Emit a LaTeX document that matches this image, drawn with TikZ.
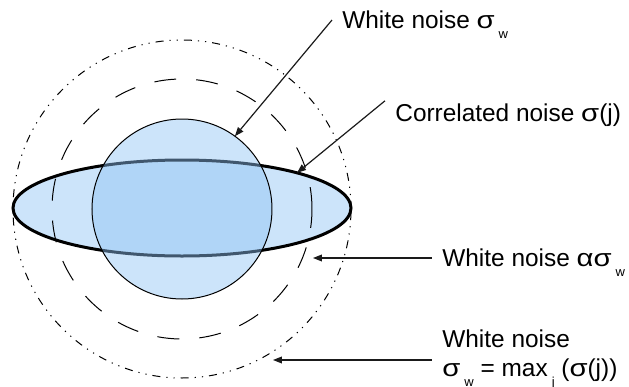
\documentclass[tikz,border=0pt]{standalone}
\usepackage{fontspec}
\setmainfont{Liberation Sans}
\newfontfamily\greekfont[FakeStretch=1.2]{Liberation Sans}
\usetikzlibrary{arrows.meta,shapes.geometric}
\definecolor{ellfill}{HTML}{CCE4FA}
\definecolor{discfill}{HTML}{8EC3F4}
\definecolor{ink}{HTML}{1A1A1A}
\newcommand\gk[1]{{\greekfont #1}}
\newcommand\lowsub[1]{\kern2pt\raisebox{-5pt}{\fontsize{6.5}{7}\selectfont #1}}
\tikzset{
  ring/.style={
    circle, draw=black, line width=0.5pt,
    inner sep=0pt, outer sep=0pt
  },
  noiseell/.style={
    ellipse, draw=black, line width=1.5pt, fill=ellfill,
    inner sep=0pt, outer sep=0pt,
    minimum width=169pt, minimum height=48pt
  },
  noisedisc/.style={
    circle, draw=black, line width=0.5pt, fill=discfill, fill opacity=0.45,
    inner sep=0pt, outer sep=0pt, minimum size=90pt
  },
  lbl/.style={
    font=\fontsize{12.2}{14.5}\selectfont, anchor=west,
    inner xsep=5pt, inner ysep=1.5pt
  },
  oneline/.style={text height=8.8pt, text depth=0pt},
  arrow/.style={-{Triangle[length=4.5pt,width=3.4pt]}, line width=0.6pt, draw=ink}
}

\begin{document}
\begin{tikzpicture}[x=0.5pt, y=-0.5pt]
  \useasboundingbox (0,0) rectangle (629,387);
  \node[noiseell] (corr) at (182,208) {};
  \node[noisedisc] (white) at (182,209) {};
  \node[ring, dash pattern=on 11pt off 10pt, minimum size=130pt] (ringa) at (182,209) {};
  \node[ring, dash pattern=on 4pt off 3pt on 0.6pt off 3pt on 0.6pt off 3pt, minimum size=169pt] (ringm) at (182,209) {};
  \node[lbl, oneline] (lw) at (332,20) {White noise \gk{σ}\lowsub{w}};
  \node[lbl, oneline] (lc) at (385,113) {Correlated noise \gk{σ}(j)};
  \node[lbl, oneline] (la) at (432,258) {White noise \gk{ασ}\lowsub{w}};
  \node[lbl, align=left] (lm) at (432,360) {White noise\\\gk{σ}\lowsub{w} = max\lowsub{j} (\gk{σ}(j))};
  \coordinate (ta) at (313,258);
  \coordinate (tm) at (273,359);
  \draw[arrow] (lw.west) -- (white.54);
  \draw[arrow] (lc.north west) -- (corr.17);
  \draw[arrow] (la.west) -- (la.west -| ta);
  \draw[arrow] (lm.west) -- (lm.west -| tm);
\end{tikzpicture}
\end{document}
